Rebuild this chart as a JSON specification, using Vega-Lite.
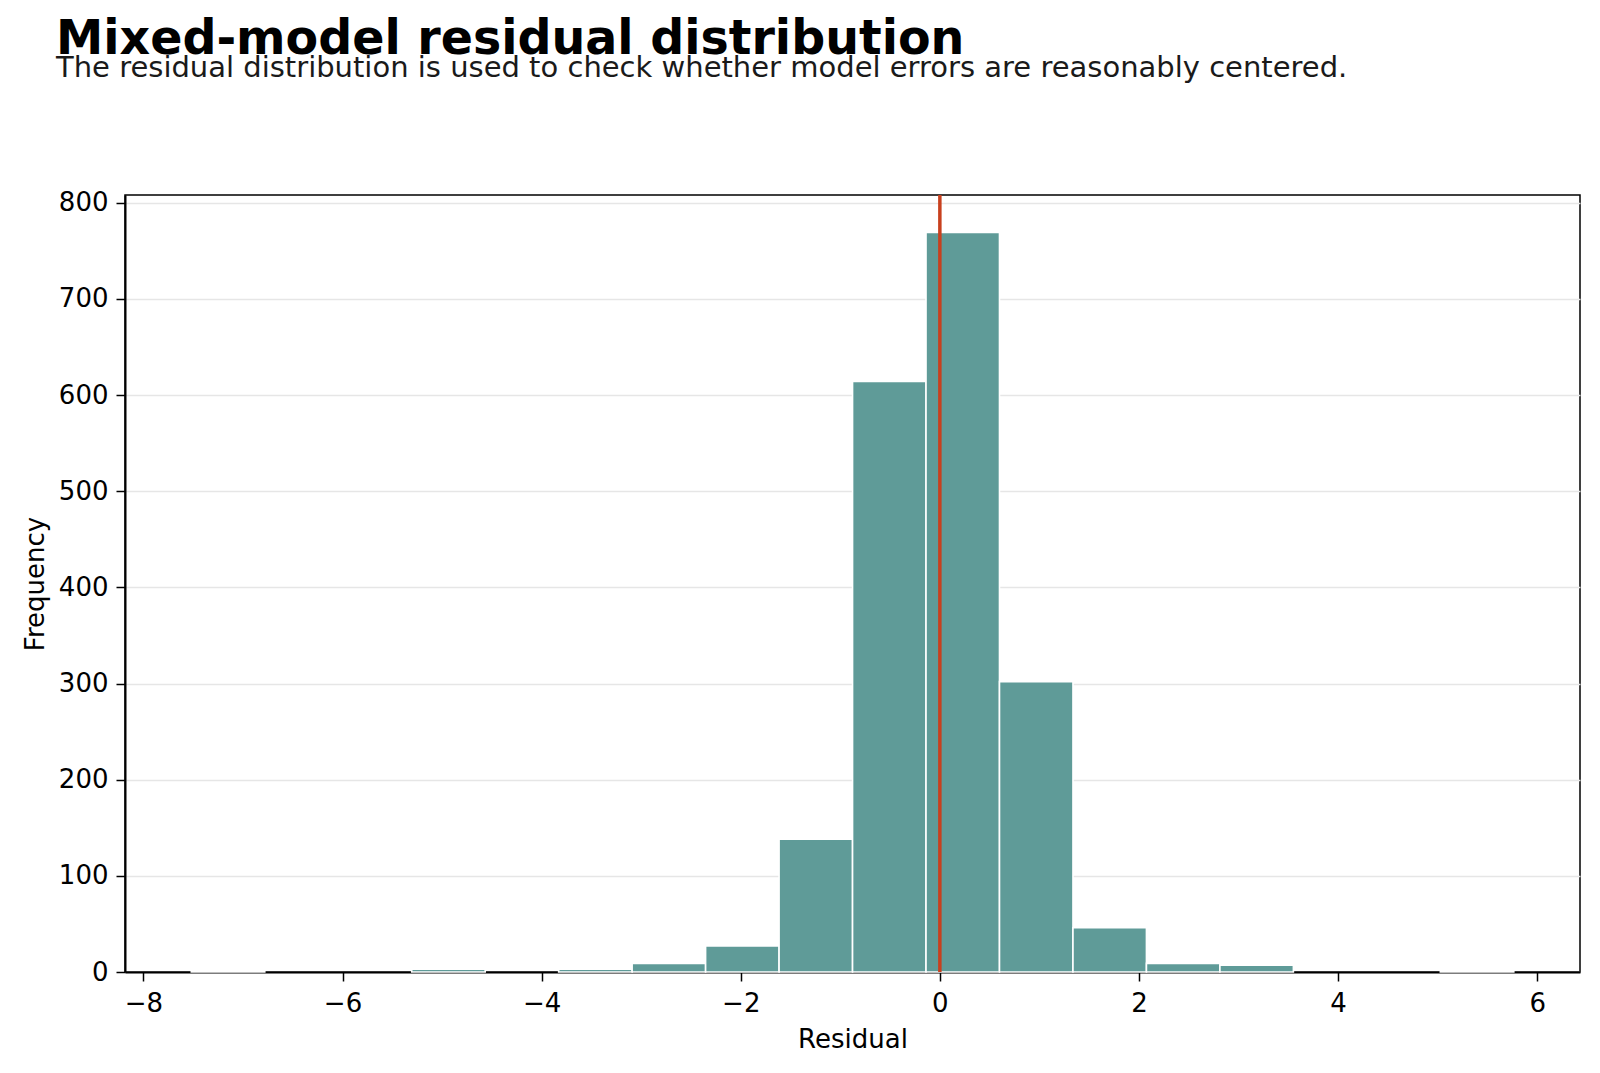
{
  "$schema": "https://vega.github.io/schema/vega-lite/v6.json",
  "width": 1455,
  "height": 777,
  "autosize": {"type": "none"},
  "padding": {"left": 125, "top": 195, "right": 20, "bottom": 101},
  "background": "white",
  "config": {
    "font": "DejaVu Sans",
    "view": {"stroke": "black", "strokeWidth": 1.5},
    "axis": {
      "labelFont": "DejaVu Sans",
      "titleFont": "DejaVu Sans",
      "labelFontSize": 26,
      "titleFontSize": 26,
      "titleFontWeight": "normal",
      "labelColor": "black",
      "titleColor": "black",
      "domainColor": "black",
      "domainWidth": 2,
      "tickColor": "black",
      "tickWidth": 1.5,
      "tickSize": 9,
      "zindex": 1
    }
  },
  "title": {
    "text": "Mixed-model residual distribution",
    "subtitle": "The residual distribution is used to check whether model errors are reasonably centered.",
    "anchor": "start",
    "frame": "group",
    "dx": -69,
    "offset": 107,
    "font": "DejaVu Sans",
    "fontSize": 47.5,
    "fontWeight": "bold",
    "color": "black",
    "subtitleFont": "DejaVu Sans",
    "subtitleFontSize": 29,
    "subtitleColor": "#1a1a1a",
    "subtitlePadding": -10
  },
  "datasets": {
    "bins": [
      {"bin_start": -7.519, "bin_end": -6.781, "count": 1},
      {"bin_start": -5.305, "bin_end": -4.567, "count": 3},
      {"bin_start": -3.829, "bin_end": -3.091, "count": 3},
      {"bin_start": -3.091, "bin_end": -2.353, "count": 9},
      {"bin_start": -2.353, "bin_end": -1.615, "count": 27},
      {"bin_start": -1.615, "bin_end": -0.877, "count": 138},
      {"bin_start": -0.877, "bin_end": -0.139, "count": 614},
      {"bin_start": -0.139, "bin_end": 0.599, "count": 769},
      {"bin_start": 0.599, "bin_end": 1.337, "count": 302},
      {"bin_start": 1.337, "bin_end": 2.075, "count": 46},
      {"bin_start": 2.075, "bin_end": 2.813, "count": 9},
      {"bin_start": 2.813, "bin_end": 3.551, "count": 7},
      {"bin_start": 5.027, "bin_end": 5.765, "count": 1}
    ],
    "reference": [{"residual": 0}]
  },
  "layer": [
    {
      "data": {"name": "bins"},
      "mark": {"type": "rect", "color": "#5f9b98", "stroke": "white", "strokeWidth": 1.6},
      "encoding": {
        "x": {
          "field": "bin_start",
          "type": "quantitative",
          "scale": {"domain": [-8.185, 6.43], "nice": false, "zero": false},
          "axis": {"values": [-8, -6, -4, -2, 0, 2, 4, 6], "format": "d", "title": "Residual", "grid": false, "labelPadding": 9, "titlePadding": 10}
        },
        "x2": {"field": "bin_end"},
        "y": {
          "field": "count",
          "type": "quantitative",
          "scale": {"domain": [0, 808], "nice": false},
          "axis": {
            "values": [0, 100, 200, 300, 400, 500, 600, 700, 800],
            "format": "d",
            "title": "Frequency",
            "grid": true,
            "gridColor": "#e6e6e6",
            "gridWidth": 1.3,
            "labelPadding": 8,
            "titlePadding": 10
          }
        }
      }
    },
    {
      "data": {"name": "reference"},
      "mark": {"type": "rule", "color": "#c8401e", "strokeWidth": 3.5},
      "encoding": {
        "x": {"field": "residual", "type": "quantitative"}
      }
    }
  ]
}
